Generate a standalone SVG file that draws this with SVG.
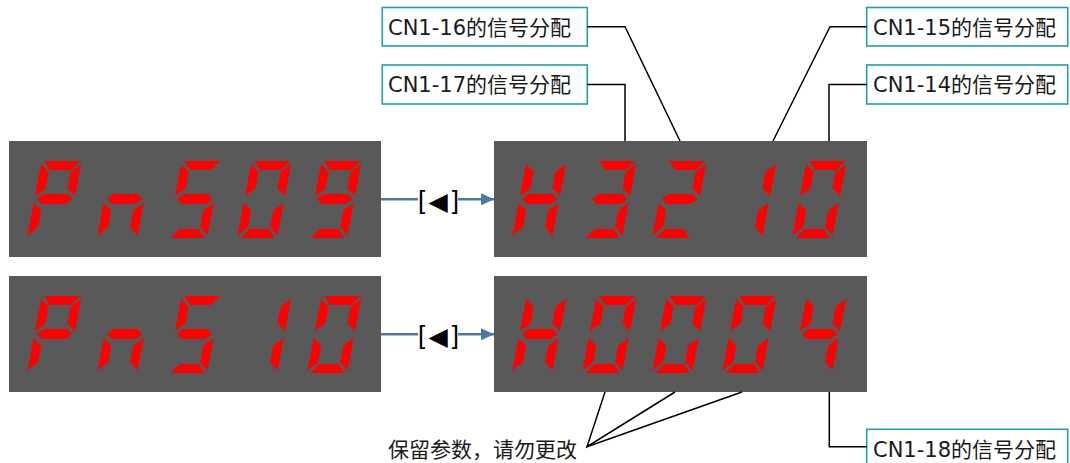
<svg xmlns="http://www.w3.org/2000/svg" xmlns:xlink="http://www.w3.org/1999/xlink" width="1070" height="463" viewBox="0 0 1070 463">
<style>
.disp{fill:#595959}
.seg{fill:#ff0000}
.box{fill:#ffffff;stroke:#1f9fa6;stroke-width:1.6}
.t{font-family:"DejaVu Sans","Noto Sans CJK SC",sans-serif;font-size:21px;fill:#1a1a1a}
.br{font-family:"Liberation Sans",sans-serif;font-size:26px;fill:#000}
.tri{font-family:"DejaVu Sans",sans-serif;font-size:25px;fill:#000}
.conn{stroke:#000;stroke-width:1.5;fill:none}
.arr{stroke:#4a78a8;stroke-width:2.5;fill:none}
</style>
<defs>
<polygon id="sa" class="seg" points="2.5,-77 38.5,-77 31,-68 10,-68"/>
<polygon id="sb" class="seg" points="40,-74 40,-42 31,-49.5 31,-66"/>
<polygon id="sc" class="seg" points="40,-35 40,-2.5 31,-11 31,-27.5"/>
<polygon id="sd" class="seg" points="3.5,0 37.5,0 30,-9 11,-9"/>
<polygon id="se" class="seg" points="0,-35 9,-27.5 9,-11 0,-2.5"/>
<polygon id="sf" class="seg" points="0,-74 9,-66 9,-49.5 0,-42"/>
<polygon id="sg" class="seg" points="2.5,-39 8,-44 32,-44 38,-39 32,-34 8,-34"/>
<marker id="ah" markerUnits="userSpaceOnUse" markerWidth="14" markerHeight="12" refX="13" refY="6" orient="auto">
<path d="M0,0 L13,6 L0,12 z" fill="#4a78a8"/>
</marker>
</defs>

<g id="disp-pn509">
<rect class="disp" x="9" y="141" width="372" height="116"/>
<g transform="translate(27 238) skewX(-10.8)"><use href="#sa"/><use href="#sb"/><use href="#sf"/><use href="#sg"/><use href="#se"/></g>
<g transform="translate(97 238) skewX(-10.8)"><use href="#sc"/><use href="#se"/><use href="#sg"/></g>
<g transform="translate(167 238) skewX(-10.8)"><use href="#sa"/><use href="#sf"/><use href="#sg"/><use href="#sc"/><use href="#sd"/></g>
<g transform="translate(237 238) skewX(-10.8)"><use href="#sa"/><use href="#sb"/><use href="#sc"/><use href="#sd"/><use href="#se"/><use href="#sf"/></g>
<g transform="translate(307 238) skewX(-10.8)"><use href="#sa"/><use href="#sb"/><use href="#sc"/><use href="#sd"/><use href="#sf"/><use href="#sg"/></g>
</g>

<g id="disp-h3210">
<rect class="disp" x="494" y="141" width="373" height="116"/>
<g transform="translate(512 238) skewX(-10.8)"><use href="#sb"/><use href="#sc"/><use href="#se"/><use href="#sf"/><use href="#sg"/></g>
<g transform="translate(582 238) skewX(-10.8)"><use href="#sa"/><use href="#sb"/><use href="#sg"/><use href="#sc"/><use href="#sd"/></g>
<g transform="translate(652 238) skewX(-10.8)"><use href="#sa"/><use href="#sb"/><use href="#sg"/><use href="#se"/><use href="#sd"/></g>
<g transform="translate(722 238) skewX(-10.8)"><use href="#sb"/><use href="#sc"/></g>
<g transform="translate(792 238) skewX(-10.8)"><use href="#sa"/><use href="#sb"/><use href="#sc"/><use href="#sd"/><use href="#se"/><use href="#sf"/></g>
</g>

<g id="disp-pn510">
<rect class="disp" x="9" y="276" width="372" height="116"/>
<g transform="translate(27 373) skewX(-10.8)"><use href="#sa"/><use href="#sb"/><use href="#sf"/><use href="#sg"/><use href="#se"/></g>
<g transform="translate(97 373) skewX(-10.8)"><use href="#sc"/><use href="#se"/><use href="#sg"/></g>
<g transform="translate(167 373) skewX(-10.8)"><use href="#sa"/><use href="#sf"/><use href="#sg"/><use href="#sc"/><use href="#sd"/></g>
<g transform="translate(237 373) skewX(-10.8)"><use href="#sb"/><use href="#sc"/></g>
<g transform="translate(307 373) skewX(-10.8)"><use href="#sa"/><use href="#sb"/><use href="#sc"/><use href="#sd"/><use href="#se"/><use href="#sf"/></g>
</g>

<g id="disp-h0004">
<rect class="disp" x="494" y="276" width="373" height="116"/>
<g transform="translate(512 373) skewX(-10.8)"><use href="#sb"/><use href="#sc"/><use href="#se"/><use href="#sf"/><use href="#sg"/></g>
<g transform="translate(582 373) skewX(-10.8)"><use href="#sa"/><use href="#sb"/><use href="#sc"/><use href="#sd"/><use href="#se"/><use href="#sf"/></g>
<g transform="translate(652 373) skewX(-10.8)"><use href="#sa"/><use href="#sb"/><use href="#sc"/><use href="#sd"/><use href="#se"/><use href="#sf"/></g>
<g transform="translate(722 373) skewX(-10.8)"><use href="#sa"/><use href="#sb"/><use href="#sc"/><use href="#sd"/><use href="#se"/><use href="#sf"/></g>
<g transform="translate(792 373) skewX(-10.8)"><use href="#sb"/><use href="#sc"/><use href="#sf"/><use href="#sg"/></g>
</g>

<g id="lbl-cn1-16"><rect class="box" x="382.3" y="7.5" width="205" height="38.5"/><text class="t" x="388" y="34.5">CN1-16的信号分配</text></g>
<g id="lbl-cn1-17"><rect class="box" x="382.3" y="65" width="205" height="39"/><text class="t" x="388" y="92">CN1-17的信号分配</text></g>
<g id="lbl-cn1-15"><rect class="box" x="866.7" y="7.5" width="201" height="38.5"/><text class="t" x="873" y="34.5">CN1-15的信号分配</text></g>
<g id="lbl-cn1-14"><rect class="box" x="866.7" y="65" width="201" height="39"/><text class="t" x="873" y="92">CN1-14的信号分配</text></g>
<g id="lbl-cn1-18"><rect class="box" x="866.7" y="429.3" width="201" height="39"/><text class="t" x="873" y="457">CN1-18的信号分配</text></g>
<g id="lbl-reserved"><text class="t" x="388" y="457">保留参数，请勿更改</text></g>

<g id="key-top">
<text class="br" x="418" y="209">[</text>
<text class="tri" x="438" y="210" text-anchor="middle">◀</text>
<text class="br" x="459" y="209" text-anchor="end">]</text>
</g>
<g id="key-bottom">
<text class="br" x="418" y="344">[</text>
<text class="tri" x="438" y="345" text-anchor="middle">◀</text>
<text class="br" x="459" y="344" text-anchor="end">]</text>
</g>

<g id="connectors">
<line class="arr" x1="381" y1="199.3" x2="418" y2="199.3"/>
<line class="arr" x1="458" y1="199.3" x2="494" y2="199.3" marker-end="url(#ah)"/>
<line class="arr" x1="381" y1="334.3" x2="418" y2="334.3"/>
<line class="arr" x1="458" y1="334.3" x2="494" y2="334.3" marker-end="url(#ah)"/>
<polyline class="conn" points="587.3,26.7 625,26.7 680,141"/>
<polyline class="conn" points="587.3,84.5 625,84.5 625,141"/>
<polyline class="conn" points="866.7,26.7 830,26.7 773,141"/>
<polyline class="conn" points="866.7,84.5 829,84.5 829,141"/>
<polyline class="conn" points="605,392 587,446.7 675,392"/>
<line class="conn" x1="587" y1="446.7" x2="742" y2="392"/>
<polyline class="conn" points="829.3,392 829.3,446.7 866.7,446.7"/>
</g>
</svg>
